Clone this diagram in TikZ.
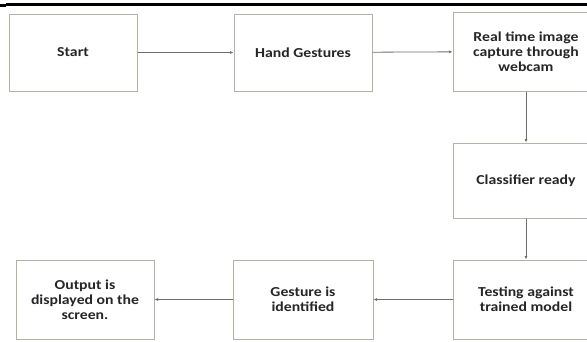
\documentclass[tikz,border=0pt]{standalone}
\usepackage{fontspec}
\setmainfont{Carlito}[FakeStretch=1.15]
\usepackage{tikz}
\usetikzlibrary{arrows.meta,positioning}

\definecolor{boxline}{RGB}{178,178,165}
\definecolor{flowline}{RGB}{110,110,110}
\tikzset{
    stepbox/.style={draw=boxline,line width=1pt,fill=white,align=center,
        font=\fontsize{13.7}{15}\selectfont\bfseries,text=black!85},
    flow/.style={-{Latex[length=3.5pt,width=3pt]},draw=flowline,line width=0.8pt}
}

\begin{document}
\begin{tikzpicture}[x=1pt,y=-1pt]
        \useasboundingbox (0,0) rectangle (587,341);
        \clip (0,0) rectangle (587,341);

        % Page rule at the top
        \fill[black] (6,2.5) rectangle (587,6);
        \fill[black] (0,4) rectangle (6,7);

        % Top row
        \node[stepbox,minimum width=128pt,minimum height=77pt] (startBox) at (73,52.5) {Start};
        \node[stepbox,minimum width=138pt,minimum height=77pt] (handBox) at (303,52.5) {Hand Gestures};
        \node[stepbox,minimum width=146pt,minimum height=79pt] (captureBox) at (526,51.5) {Real time image\\capture through\\webcam};

        % Right column
        \node[stepbox,minimum width=146pt,minimum height=75pt] (classBox) at (526,180.5) {Classifier ready};
        \node[stepbox,minimum width=146pt,minimum height=79pt] (testBox) at (526,299.5) {Testing against\\trained model};

        % Bottom row
        \node[stepbox,minimum width=140pt,minimum height=79pt] (gestureBox) at (303,299.5) {Gesture is\\identified};
        \node[stepbox,minimum width=138pt,minimum height=79pt] (outputBox) at (85,299.5) {Output is\\displayed on the\\screen.};

        % Arrows
        \draw[flow] (startBox) -- (handBox);
        \draw[flow] (handBox) -- (captureBox);
        \draw[flow] (captureBox) -- (classBox);
        \draw[flow] (classBox) -- (testBox);
        \draw[flow] (testBox) -- (gestureBox);
        \draw[flow] (gestureBox) -- (outputBox);

    \end{tikzpicture}
\end{document}
